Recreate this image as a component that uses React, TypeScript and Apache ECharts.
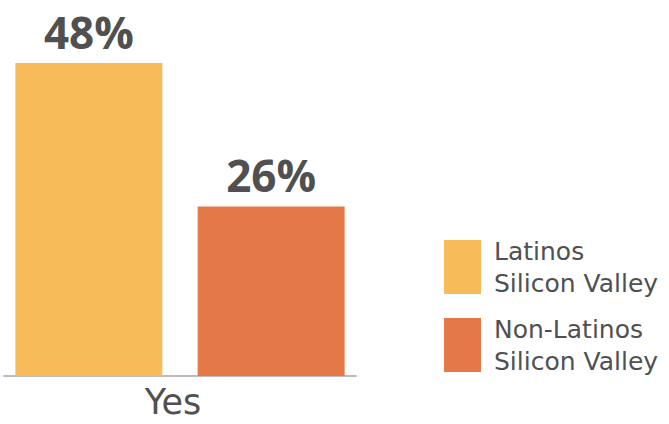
import React, { useEffect, useRef } from "react";
import * as echarts from "echarts";

const categories = ["Yes"];
const seriesNames = ["Latinos\nSilicon Valley", "Non-Latinos\nSilicon Valley"];
const latinosValues = [48];
const nonLatinosValues = [26];
const colors = ["#F8BB59", "#E47847"];

export default function App() {
  const ref = useRef<HTMLDivElement>(null);
  useEffect(() => {
    if (!ref.current) return;
    const chart = echarts.init(ref.current, null, { renderer: "svg" });
    const labelStyle = {
      show: true,
      position: "top",
      distance: 9,
      formatter: "{c}%",
      fontFamily: "Open Sans",
      fontWeight: "bold",
      fontSize: 44,
      color: "#505050",
    };
    chart.setOption({
      animation: false,
      backgroundColor: "#ffffff",
      grid: { left: 4, right: 313, top: 63, bottom: 48, containLabel: false },
      xAxis: {
        type: "category",
        data: categories,
        axisLine: { show: true, lineStyle: { color: "#BBBBBB", width: 2 } },
        axisTick: { show: false },
        axisLabel: {
          color: "#505050",
          fontFamily: "DejaVu Sans",
          fontSize: 35,
          margin: 8,
          padding: [0, 14, 0, 0],
        },
      },
      yAxis: {
        type: "value",
        min: 0,
        max: 48,
        show: false,
        splitLine: { show: false },
      },
      legend: {
        orient: "vertical",
        left: 444,
        top: 235,
        padding: 0,
        itemWidth: 37,
        itemHeight: 54,
        itemGap: 14,
        icon: "rect",
        textStyle: {
          fontFamily: "DejaVu Sans",
          fontSize: 25,
          lineHeight: 32,
          color: "#505050",
          padding: [0, 0, 0, 8],
        },
        data: seriesNames,
      },
      series: [
        {
          name: seriesNames[0],
          type: "bar",
          data: latinosValues,
          barWidth: 147,
          barGap: "24%",
          itemStyle: { color: colors[0] },
          label: labelStyle,
        },
        {
          name: seriesNames[1],
          type: "bar",
          data: nonLatinosValues,
          barWidth: 147,
          barGap: "24%",
          itemStyle: { color: colors[1] },
          label: labelStyle,
        },
      ],
    });
    return () => chart.dispose();
  }, []);
  return <div ref={ref} style={{ width: 669, height: 424, position: "absolute", left: 0, top: 0 }} />;
}
